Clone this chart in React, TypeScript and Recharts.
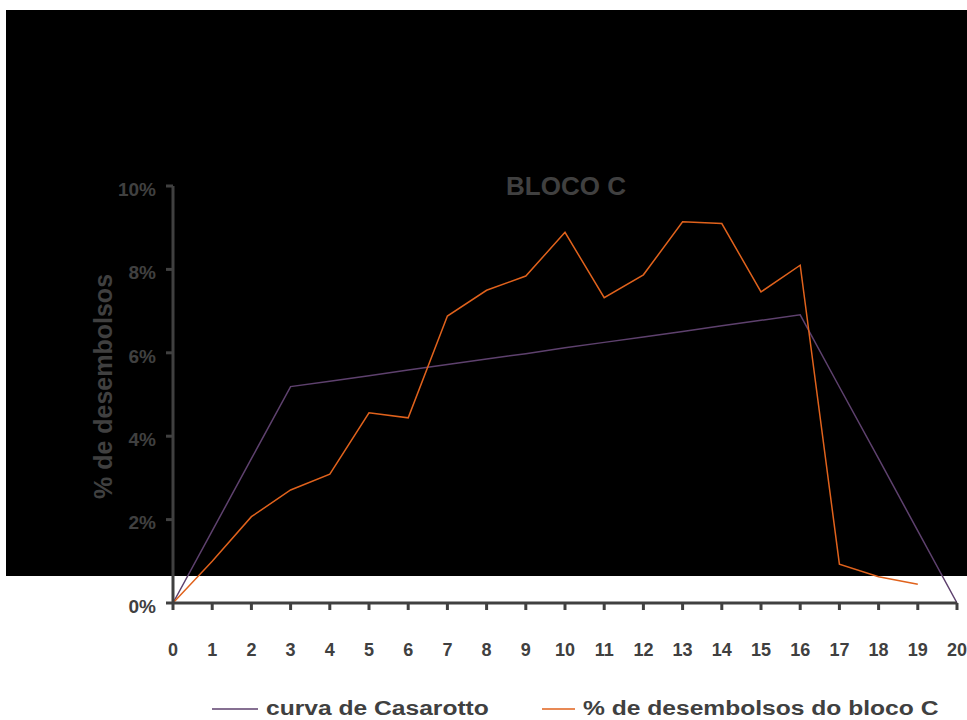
import { Legend, Line, LineChart, XAxis, YAxis } from "recharts";

// periodo (meses) e % de desembolso por periodo
const periods = [0, 1, 2, 3, 4, 5, 6, 7, 8, 9, 10, 11, 12, 13, 14, 15, 16, 17, 18, 19, 20];
const casarotto = [0, 1.73, 3.46, 5.19, 5.32, 5.45, 5.59, 5.72, 5.85, 5.98, 6.12, 6.25, 6.38, 6.51, 6.65, 6.78, 6.91, 5.18, 3.46, 1.73, 0];
const blocoC = [0, 1.0, 2.07, 2.71, 3.09, 4.56, 4.44, 6.88, 7.5, 7.84, 8.89, 7.32, 7.87, 9.14, 9.1, 7.46, 8.1, 0.93, 0.63, 0.45, null];
const yTicks = [0, 2, 4, 6, 8, 10];
const seriesNames = ["curva de Casarotto", "% de desembolsos do bloco C"];

const data = periods.map((p, i) => ({
    periodo: p,
    casarotto: casarotto[i],
    blocoC: blocoC[i],
}));

const FONT = "'Liberation Sans', Arial, sans-serif";
const GREY = "#404040";

const LegendContent = ({ payload }: any) => {
    const items = [...(payload || [])].sort(
        (a: any, b: any) => seriesNames.indexOf(a.value) - seriesNames.indexOf(b.value)
    );
    return (
        <div style={{ display: "flex", alignItems: "center" }}>
            {items.map((entry: any) => (
                <div key={entry.value} style={{ display: "flex", alignItems: "center", width: 330, flexShrink: 0 }}>
                    <svg width={46} height={4}>
                        <line x1={0} y1={2} x2={46} y2={2} stroke={entry.color} strokeWidth={1.5} />
                    </svg>
                    <span
                        style={{
                            marginLeft: 8,
                            fontFamily: FONT,
                            fontWeight: "bold",
                            fontSize: 20,
                            color: GREY,
                            display: "inline-block",
                            whiteSpace: "nowrap",
                            transform: "scaleX(1.23)",
                            transformOrigin: "left center",
                        }}
                    >
                        {entry.value}
                    </span>
                </div>
            ))}
        </div>
    );
};

const App = () => {
    return (
        <div style={{ position: "absolute", left: 0, top: 0, width: 967, height: 720, background: "#fff" }}>
            <div style={{ position: "absolute", left: 6, top: 10, width: 961, height: 566, background: "#000" }} />
            <LineChart
                width={967}
                height={720}
                data={data}
                margin={{ top: 186, right: 10, bottom: 57, left: 0 }}
            >
                <XAxis
                    dataKey="periodo"
                    type="number"
                    domain={[0, 20]}
                    ticks={periods}
                    height={60}
                    stroke={GREY}
                    strokeWidth={3}
                    tickSize={7}
                    tickMargin={33}
                    tick={{ fill: GREY, fontSize: 18, fontWeight: "bold", fontFamily: FONT }}
                />
                <YAxis
                    type="number"
                    domain={[0, 10]}
                    ticks={yTicks}
                    width={173}
                    stroke={GREY}
                    strokeWidth={3}
                    tickSize={7}
                    tickMargin={10}
                    tickFormatter={(v) => `${v}%`}
                    tick={{ fill: GREY, fontSize: 19, fontWeight: "bold", fontFamily: FONT, dy: 3 }}
                    label={{
                        value: "% de desembolsos",
                        angle: -90,
                        position: "insideLeft",
                        offset: 103,
                        dy: -8,
                        style: { textAnchor: "middle", fill: GREY, fontSize: 25, fontWeight: "bold", fontFamily: FONT },
                    }}
                />
                <Legend
                    layout="vertical"
                    align="center"
                    verticalAlign="middle"
                    content={<LegendContent />}
                    wrapperStyle={{ left: 212, top: 697, width: 760, height: 24 }}
                />
                <Line
                    type="linear"
                    dataKey="casarotto"
                    name={seriesNames[0]}
                    stroke="#5e416e"
                    strokeWidth={1.5}
                    dot={false}
                    isAnimationActive={false}
                />
                <Line
                    type="linear"
                    dataKey="blocoC"
                    name={seriesNames[1]}
                    stroke="#e0621c"
                    strokeWidth={1.5}
                    dot={false}
                    isAnimationActive={false}
                />
            </LineChart>
            <div
                style={{
                    position: "absolute",
                    left: 566,
                    top: 173,
                    transform: "translateX(-50%)",
                    fontFamily: FONT,
                    fontWeight: "bold",
                    fontSize: 26,
                    lineHeight: 1,
                    color: GREY,
                    whiteSpace: "nowrap",
                }}
            >
                BLOCO C
            </div>
        </div>
    );
};

export default App;
